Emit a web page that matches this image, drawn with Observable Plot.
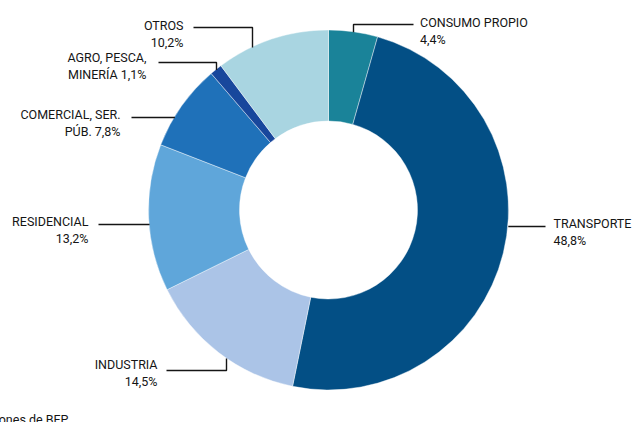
<!DOCTYPE html>
<html>
<head>
<meta charset="utf-8">
<script src="https://cdn.jsdelivr.net/npm/d3@7"></script>
<script src="https://cdn.jsdelivr.net/npm/@observablehq/plot@0.6"></script>
<style>
  html, body { margin: 0; padding: 0; background: #fff; }
  #chart { width: 632px; height: 422px; overflow: hidden; }
</style>
</head>
<body>
<div id="chart"></div>
<script>
// ---- data ----
const categories = ["CONSUMO PROPIO", "TRANSPORTE", "INDUSTRIA", "RESIDENCIAL", "COMERCIAL, SER. PÚB.", "AGRO, PESCA, MINERÍA", "OTROS"];
const values = [4.4, 48.8, 14.5, 13.2, 7.8, 1.1, 10.2];
const labelPrefix = ["CONSUMO PROPIO\n", "TRANSPORTE\n", "INDUSTRIA\n", "RESIDENCIAL\n", "COMERCIAL, SER.\nPÚB. ", "AGRO, PESCA,\nMINERÍA ", "OTROS\n"];
const colors = ["#1a8399", "#034f85", "#abc4e7", "#5fa6da", "#1f71b9", "#18479c", "#a9d5e1"];
const captionText = "Millones de BEP";

// ---- layout (pixels) ----
const W = 632, H = 422;
const CX = 328.5, CY = 210, R_OUT = 180, R_IN = 89;
const FONT = 12.5;
const layout = [
  {tx: 419.5, ty: 14.5, anchor: "start", ly: 24,  x0: 413, elbow: 353, side: "top"},
  {tx: 553,   ty: 216,  anchor: "start", ly: 226, x0: 545, elbow: null, side: "right"},
  {tx: 157,   ty: 356.5,anchor: "end",   ly: 370, x0: 166, elbow: 226, side: "bottom"},
  {tx: 88,    ty: 214,  anchor: "end",   ly: 224, x0: 98,  elbow: null, side: "left"},
  {tx: 120,   ty: 107,  anchor: "end",   ly: 117, x0: 131, elbow: null, side: "left"},
  {tx: 146,   ty: 49.5, anchor: "end",   ly: 62,  x0: 158, elbow: 216, side: "top"},
  {tx: 183,   ty: 17.5, anchor: "end",   ly: 27,  x0: 193, elbow: 252, side: "top"}
];

const fmt = v => v.toFixed(1).replace(".", ",") + "%";
const data = categories.map((c, i) => ({category: c, value: values[i], label: labelPrefix[i] + fmt(values[i]), ...layout[i]}));

// leader polylines, ending on the outer ring
const leaders = [];
data.forEach((d, i) => {
  leaders.push({k: i, x: d.x0, y: d.ly});
  if (d.elbow == null) {
    const dx = Math.sqrt(R_OUT * R_OUT - (d.ly - CY) ** 2);
    leaders.push({k: i, x: d.side === "left" ? CX - dx : CX + dx, y: d.ly});
  } else {
    const dy = Math.sqrt(R_OUT * R_OUT - (d.elbow - CX) ** 2);
    leaders.push({k: i, x: d.elbow, y: d.ly});
    leaders.push({k: i, x: d.elbow, y: d.side === "top" ? CY - dy : CY + dy});
  }
});

const color = Plot.scale({color: {type: "ordinal", domain: categories, range: colors}});

function donut(index, scales) {
  const g = d3.create("svg:g")
    .attr("transform", `translate(${scales.x(CX)},${scales.y(CY)})`);
  const arcs = d3.pie().sort(null).value(d => d.value)(data);
  const arc = d3.arc().innerRadius(R_IN).outerRadius(R_OUT);
  g.selectAll("path").data(arcs).join("path")
    .attr("d", arc)
    .attr("fill", d => color.apply(d.data.category))
    .attr("stroke", "#ffffff")
    .attr("stroke-width", 0.6)
    .attr("stroke-opacity", 0.7);
  return g.node();
}

const textOpts = {x: "tx", y: "ty", text: "label", lineAnchor: "top", lineHeight: 1.335, fontSize: FONT, fill: "#151515"};

const chart = Plot.plot({
  width: W,
  height: H,
  margin: 0,
  style: {fontFamily: "Roboto, 'Liberation Sans', sans-serif", fontSize: FONT + "px", color: "#151515", background: "#fff"},
  x: {domain: [0, W], range: [0, W], axis: null},
  y: {domain: [0, H], range: [0, H], axis: null},
  marks: [
    donut,
    Plot.line(leaders, {x: "x", y: "y", z: "k", stroke: "#151515", strokeWidth: 1.4, strokeLinejoin: "miter", strokeLinecap: "butt"}),
    Plot.text(data.filter(d => d.anchor === "start"), {...textOpts, textAnchor: "start"}),
    Plot.text(data.filter(d => d.anchor === "end"), {...textOpts, textAnchor: "end"}),
    Plot.text([captionText], {x: () => 68, y: () => 414.5, text: d => d, textAnchor: "end", lineAnchor: "top", fontSize: FONT, fill: "#151515"})
  ]
});
document.getElementById("chart").appendChild(chart);
</script>
</body>
</html>
